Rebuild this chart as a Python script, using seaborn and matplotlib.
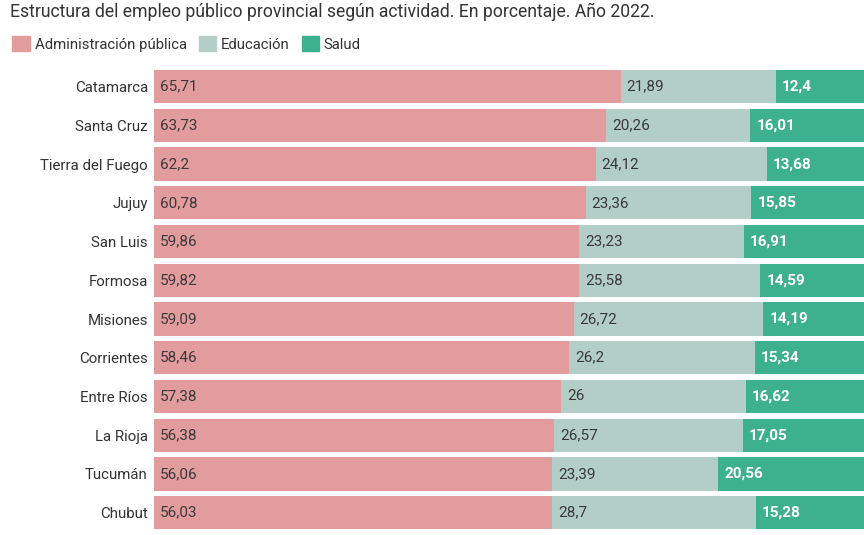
import matplotlib
matplotlib.use("Agg")
import matplotlib.pyplot as plt
import seaborn as sns
import pandas as pd
import numpy as np
from matplotlib.patches import Patch

provincias = ["Catamarca", "Santa Cruz", "Tierra del Fuego", "Jujuy", "San Luis", "Formosa",
              "Misiones", "Corrientes", "Entre Ríos", "La Rioja", "Tucumán", "Chubut"]
administracion = [65.71, 63.73, 62.2, 60.78, 59.86, 59.82, 59.09, 58.46, 57.38, 56.38, 56.06, 56.03]
educacion = [21.89, 20.26, 24.12, 23.36, 23.23, 25.58, 26.72, 26.2, 26.0, 26.57, 23.39, 28.7]
salud = [12.4, 16.01, 13.68, 15.85, 16.91, 14.59, 14.19, 15.34, 16.62, 17.05, 20.56, 15.28]
series = ["Administración pública", "Educación", "Salud"]

c_adm = "#e39c9d"
c_edu = "#b3cdc7"
c_sal = "#3db08d"

sns.set_theme(style="white")
plt.rcParams["font.family"] = ["Roboto", "DejaVu Sans"]

df = pd.DataFrame({"prov": provincias, "adm": administracion, "edu": educacion, "sal": salud})
df["c2"] = df["adm"] + df["edu"]
df["c3"] = df["c2"] + df["sal"]

fig = plt.figure(figsize=(8.64, 5.35), dpi=100)
ax = fig.add_axes([154 / 864, 1 - 532 / 535, 1 - 154 / 864, (532 - 67.3) / 535])

w = 0.86
for col, c in [("c3", c_sal), ("c2", c_edu), ("adm", c_adm)]:
    sns.barplot(data=df, y="prov", x=col, color=c, width=w, ax=ax, saturation=1, orient="h",
                linewidth=0, edgecolor="none")

def fmt(v):
    return ("%g" % v).replace(".", ",")

pad = 0.85
fs = 11
for i, r in df.iterrows():
    ax.text(pad, i, fmt(r["adm"]), va="center", ha="left", fontsize=fs, color="#3a3a3a")
    ax.text(r["adm"] + pad, i, fmt(r["edu"]), va="center", ha="left", fontsize=fs, color="#3a3a3a")
    ax.text(r["c2"] + pad, i, fmt(r["sal"]), va="center", ha="left", fontsize=fs,
            color="white", fontweight="bold")

ax.set_xlim(0, 100)
ax.set_ylim(11.5, -0.5)
ax.set_xlabel("")
ax.set_ylabel("")
ax.set_xticks([])
ax.tick_params(axis="y", length=0, pad=4.4, labelsize=10.8, labelcolor="#333333")
for s in ax.spines.values():
    s.set_visible(False)

fig.text(10 / 864, 1 - 12 / 535, "Estructura del empleo público provincial según actividad. En porcentaje. Año 2022.",
         ha="left", va="center", fontsize=12.7, color="#333333")

handles = [Patch(color=c_adm), Patch(color=c_edu), Patch(color=c_sal)]
fig.legend(handles, series, loc="center left", bbox_to_anchor=(8 / 864, 1 - 44 / 535), ncol=3,
           frameon=False, fontsize=10.7, handlelength=1.2, handleheight=1.2, handletextpad=0.3,
           columnspacing=0.8, labelcolor="#333333", borderaxespad=0, borderpad=0.3)

fig.savefig("out.png", dpi=100)
